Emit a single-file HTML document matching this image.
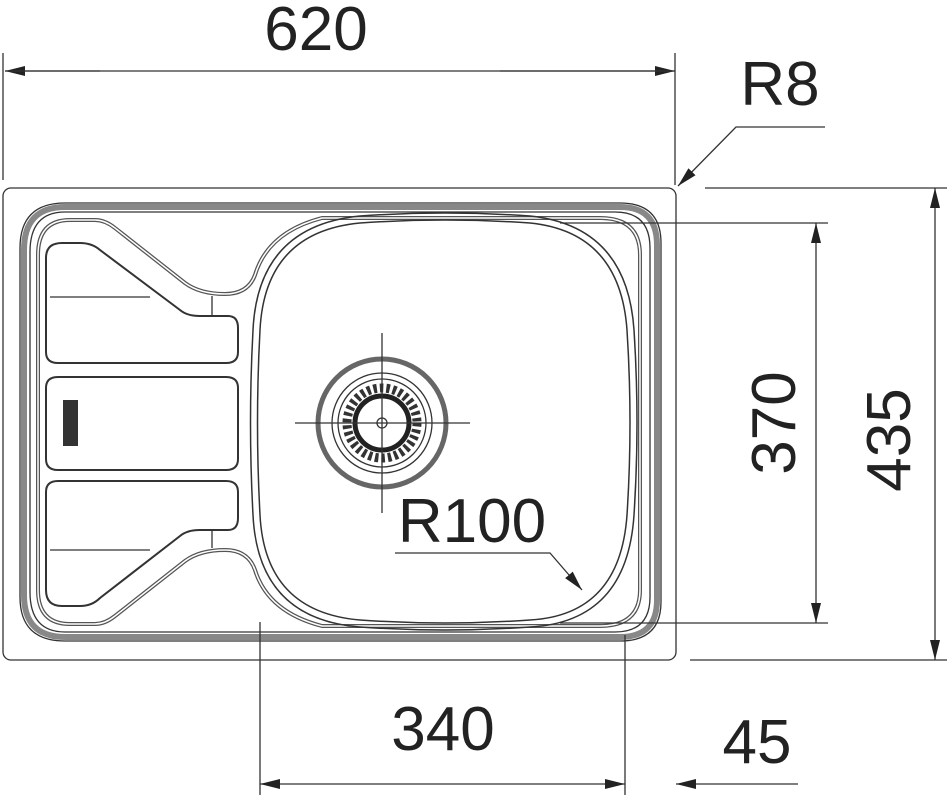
<!DOCTYPE html>
<html><head><meta charset="utf-8"><style>
html,body{margin:0;padding:0;background:#fff;}
svg{display:block;}
text{font-family:"Liberation Sans",sans-serif;font-size:62px;fill:#222;}
</style></head><body>
<svg width="950" height="800" viewBox="0 0 950 800" xmlns="http://www.w3.org/2000/svg">
<defs>
<marker id="a" viewBox="0 0 20 10" refX="20" refY="5" markerWidth="20" markerHeight="10" markerUnits="userSpaceOnUse" orient="auto"><path d="M0,0 L20,5 L0,10 Z" fill="#222"/></marker>
</defs>
<g fill="none" stroke="#333" stroke-width="1.3">
<!-- outer rect -->
<rect x="3" y="188" width="673" height="472" rx="8"/>
<!-- rim band -->
<path d="M65,207 L620,207 Q657,207 657,245 L657,600 Q657,637 620,637 L65,637 Q24,637 24,595 L24,250 Q24,207 65,207 Z" stroke="#888" stroke-width="6"/>
<path d="M65,212 L615,212 Q650,212 650,248 L650,597 Q650,632 615,632 L65,632 Q30,632 30,592 L30,252 Q30,212 65,212 Z"/>
<path d="M65,203 L620,203 Q661,203 661,243 L661,602 Q661,641 620,641 L65,641 Q20,641 20,597 L20,248 Q20,203 65,203 Z"/>
<!-- drainer channel -->
<path d="M38,255 Q38,220 70,220 L95,220 Q105,220 115,228 L185,283 Q200,294 225,294 Q248,294 255,275 Q268,232 322,218 L600,218 Q640,218 640,255 L640,590 Q640,626 600,626 L322,626 Q268,612 255,570 Q248,550 225,550 Q200,550 185,561 L115,616 Q105,624 95,624 L70,624 Q38,624 38,590 Z" stroke="#555" stroke-width="4"/>
<path d="M38,255 Q38,220 70,220 L95,220 Q105,220 115,228 L185,283 Q200,294 225,294 Q248,294 255,275 Q268,232 322,218 L600,218 Q640,218 640,255 L640,590 Q640,626 600,626 L322,626 Q268,612 255,570 Q248,550 225,550 Q200,550 185,561 L115,616 Q105,624 95,624 L70,624 Q38,624 38,590 Z" stroke="#fff" stroke-width="1.5"/>
<!-- pockets -->
<path d="M46,258 Q46,243 62,243 L80,243 Q92,243 100,250 L180,310 Q187,316 200,316 L228,316 Q238,316 238,328 L238,352 Q238,363 226,363 L58,363 Q46,363 46,352 Z" stroke-width="2"/>
<path d="M46,388 Q46,377 58,377 L226,377 Q238,377 238,388 L238,459 Q238,470 226,470 L58,470 Q46,470 46,459 Z" stroke-width="2"/>
<path d="M46,492 Q46,481 58,481 L226,481 Q238,481 238,492 L238,518 Q238,530 228,530 L200,530 Q187,530 180,536 L100,598 Q92,606 80,606 L62,606 Q46,606 46,590 Z" stroke-width="2"/>
<line x1="50" y1="297" x2="150" y2="297"/>
<line x1="50" y1="550" x2="150" y2="550"/>
<line x1="212" y1="296" x2="212" y2="315"/>
<line x1="212" y1="530" x2="212" y2="548"/>
<!-- bowl -->
<path d="M360,223 Q445,217 530,223 Q620,232 627,330 Q633,423 627,515 Q620,615 530,620 Q445,626 360,620 Q265,612 260,515 Q255,423 260,330 Q265,232 360,223 Z" stroke-width="1.5"/>
<path d="M360,216 Q445,210 530,216 Q627,226 634,330 Q640,423 634,515 Q627,622 530,627 Q445,633 360,627 Q258,619 253,515 Q248,423 253,330 Q258,226 360,216 Z" stroke-width="1.5"/>
<!-- drain -->
<circle cx="382" cy="423" r="64" stroke="#666" stroke-width="5"/>
<circle cx="382" cy="423" r="50"/>
<circle cx="382" cy="423" r="44"/>
<circle cx="382" cy="423" r="35" stroke="#333" stroke-width="9" stroke-dasharray="3.5 3"/>
<circle cx="382" cy="423" r="27" stroke="#222" stroke-width="5"/>
<circle cx="382" cy="423" r="5"/>
<line x1="295" y1="423" x2="470" y2="423"/>
<line x1="382" y1="333" x2="382" y2="513"/>
<!-- logo -->
<rect x="63" y="400" width="15" height="46" fill="#333" stroke="none"/>
<!-- dimension lines -->
<line x1="3" y1="53" x2="3" y2="180"/>
<line x1="675" y1="53" x2="675" y2="185"/>
<line x1="100" y1="71" x2="5" y2="71" marker-end="url(#a)"/>
<line x1="500" y1="71" x2="675" y2="71" marker-end="url(#a)"/>
<line x1="5" y1="71" x2="675" y2="71"/>
<!-- R8 -->
<polyline points="825,127 736,127 678,186" marker-end="url(#a)"/>
<!-- 370 -->
<line x1="560" y1="223" x2="828" y2="223"/>
<line x1="560" y1="623" x2="828" y2="623"/>
<line x1="816" y1="400" x2="816" y2="223" marker-end="url(#a)"/>
<line x1="816" y1="400" x2="816" y2="623" marker-end="url(#a)"/>
<!-- 435 -->
<line x1="705" y1="188" x2="947" y2="188"/>
<line x1="690" y1="660" x2="947" y2="660"/>
<line x1="935" y1="400" x2="935" y2="188" marker-end="url(#a)"/>
<line x1="935" y1="400" x2="935" y2="660" marker-end="url(#a)"/>
<!-- 340 -->
<line x1="260" y1="622" x2="260" y2="795"/>
<line x1="625" y1="635" x2="625" y2="795"/>
<line x1="440" y1="784" x2="260" y2="784" marker-end="url(#a)"/>
<line x1="440" y1="784" x2="625" y2="784" marker-end="url(#a)"/>
<!-- 45 -->
<line x1="798" y1="784" x2="676" y2="784" marker-end="url(#a)"/>
<!-- R100 -->
<polyline points="395,553 550,553 582,590" marker-end="url(#a)"/>
</g>
<text x="316" y="50" text-anchor="middle">620</text>
<text x="780" y="105" text-anchor="middle">R8</text>
<text x="472" y="542" text-anchor="middle">R100</text>
<text x="443" y="750" text-anchor="middle">340</text>
<text x="757" y="763" text-anchor="middle">45</text>
<text transform="translate(795,423) rotate(-90)" text-anchor="middle">370</text>
<text transform="translate(910,440) rotate(-90)" text-anchor="middle">435</text>
</svg>
</body></html>
